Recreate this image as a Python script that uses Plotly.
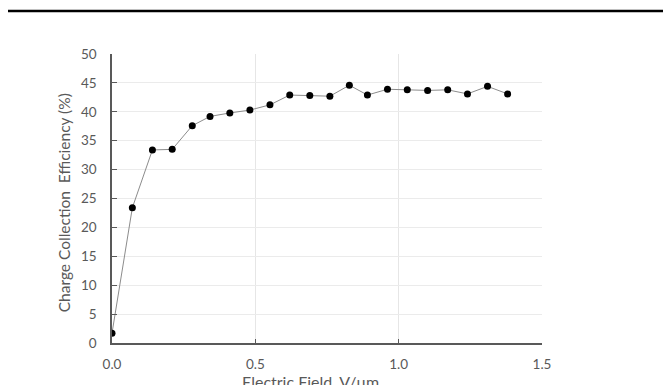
import plotly.graph_objects as go

field = [0.0, 0.071, 0.141, 0.210, 0.280, 0.342, 0.411, 0.481, 0.551, 0.620, 0.690,
         0.760, 0.828, 0.891, 0.961, 1.030, 1.101, 1.171, 1.240, 1.310, 1.380]
cce = [1.7, 23.4, 33.4, 33.5, 37.6, 39.2, 39.8, 40.3, 41.2, 42.9, 42.8,
       42.7, 44.6, 42.9, 43.9, 43.8, 43.7, 43.8, 43.1, 44.4, 43.1]
x_ticks = [0.0, 0.5, 1.0, 1.5]
x_tick_text = ["0.0", "0.5", "1.0", "1.5"]
y_ticks = list(range(0, 51, 5))
x_title = "Electric Field, V/μm"
y_title = "Charge Collection  Efficiency (%)"

OFF = 8  # page body margin
W, H = 671 - OFF, 385 - OFF
# plot area in page pixels: x 111.5..541.7, y 54..343.5
L = 111.5 - OFF
R = W - (541.7 - OFF)
T = 54 - OFF
B = H - (343.5 - OFF)

FONT = "Lato, Open Sans, Liberation Sans, sans-serif"
GRAY = "#595959"

fig = go.Figure()
fig.add_trace(go.Scatter(
    x=field, y=cce, mode="lines+markers",
    line=dict(color="#8c8c8c", width=1),
    marker=dict(color="black", size=7),
    showlegend=False,
))

axis_font = dict(family=FONT, size=13.5, color=GRAY)

fig.update_layout(
    width=W, height=H,
    margin=dict(l=L, r=R, t=T, b=B, autoexpand=False),
    paper_bgcolor="white", plot_bgcolor="white",
    xaxis=dict(
        range=[0, 1.5], tickvals=x_ticks, ticktext=x_tick_text,
        showgrid=True, gridcolor="#e6e6e6", gridwidth=1,
        showline=True, linecolor=GRAY, linewidth=1.5,
        ticks="inside", ticklen=4, tickcolor=GRAY,
        tickfont=axis_font, zeroline=False, automargin=False,
        ticklabelstandoff=8,
    ),
    yaxis=dict(
        range=[0, 50], tickvals=y_ticks,
        showgrid=True, gridcolor="#ebebeb", gridwidth=1,
        showline=True, linecolor=GRAY, linewidth=1.5,
        ticks="inside", ticklen=5, tickcolor=GRAY,
        tickfont=axis_font, zeroline=False, automargin=False,
        ticklabelstandoff=11,
    ),
)

pw = W - L - R
ph = H - T - B

def px(xp):
    return (xp - OFF - L) / pw

def py(yp):
    return 1 - (yp - OFF - T) / ph

# axis titles
fig.add_annotation(text=x_title, xref="paper", yref="paper",
                   x=px(310), y=py(371),
                   xanchor="center", yanchor="top", showarrow=False,
                   font=dict(family=FONT, size=16, color=GRAY))
fig.add_annotation(text=y_title, xref="paper", yref="paper",
                   x=px(63), y=py(203),
                   xanchor="center", yanchor="middle", showarrow=False, textangle=-90,
                   font=dict(family=FONT, size=15.5, color=GRAY))

fig.add_shape(type="line", xref="paper", yref="paper",
              x0=px(0), x1=px(671),
              y0=py(11), y1=py(11),
              line=dict(color="black", width=2.5))

fig.write_html("out.html")
